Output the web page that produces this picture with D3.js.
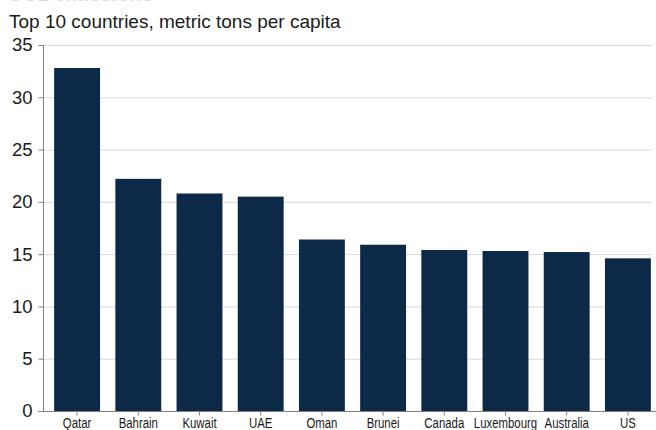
<!DOCTYPE html>
<html><head><meta charset="utf-8">
<script src="https://cdn.jsdelivr.net/npm/d3@7"></script>
<style>body{margin:0;background:#fff}svg{display:block}</style>
</head><body>
<script>
const countries = ["Qatar","Bahrain","Kuwait","UAE","Oman","Brunei","Canada","Luxembourg","Australia","US"];
const values = [32.8, 22.2, 20.8, 20.5, 16.4, 15.9, 15.4, 15.3, 15.2, 14.6];
const yTicks = [0,5,10,15,20,25,30,35];
const title = "CO2 emissions";
const subtitle = "Top 10 countries, metric tons per capita";

const W = 656, H = 430;
const svg = d3.select("body").append("svg").attr("width", W).attr("height", H);

svg.append("text").attr("x", 8).attr("y", 1).attr("fill", "#dcdcdc")
  .attr("font-family", "Liberation Sans, Arial, sans-serif").attr("font-size", 20).attr("font-weight", "bold")
  .text(title);
svg.append("text").attr("x", 9).attr("y", 28).attr("fill", "#1a1a1a")
  .attr("font-family", "Liberation Sans, Arial, sans-serif").attr("font-size", 19)
  .text(subtitle);

const y = d3.scaleLinear().domain([0, 35]).range([411, 45]);
const x = d3.scaleBand().domain(countries).range([46.5, 658.5]).paddingInner(0.25).paddingOuter(0.125);

// gridlines
svg.append("g").selectAll("line").data(yTicks.filter(d => d > 0)).join("line")
  .attr("x1", 43).attr("x2", 652).attr("y1", d => y(d) + 0.5).attr("y2", d => y(d) + 0.5)
  .attr("stroke", "#d9d9d9").attr("stroke-width", 1);

// bars
svg.append("g").selectAll("rect").data(countries).join("rect")
  .attr("x", d => x(d)).attr("width", x.bandwidth())
  .attr("y", (d, i) => y(values[i])).attr("height", (d, i) => y(0) - y(values[i]))
  .attr("fill", "#0c2a47");

// y axis
const yAxis = d3.axisLeft(y).tickValues(yTicks).tickSize(5).tickPadding(6);
const gy = svg.append("g").attr("transform", "translate(43.5,0)").call(yAxis);
gy.select(".domain").attr("stroke", "#808080").attr("d", `M-5,${y(35)+0.5}H0V${y(0)}`);
gy.selectAll(".tick line").attr("stroke", "#808080");
gy.selectAll(".tick text").attr("font-family", "Liberation Sans, Arial, sans-serif").attr("font-size", 18.5).attr("fill", "#1a1a1a");

// x axis
const xAxis = d3.axisBottom(x).tickSize(4).tickPadding(4);
const gx = svg.append("g").attr("transform", `translate(0,${y(0)+0.5})`).call(xAxis);
gx.select(".domain").attr("stroke", "#808080").attr("d", "M38,0H656");
gx.selectAll(".tick line").attr("stroke", "#808080");
gx.selectAll(".tick text")
  .attr("font-family", "Liberation Sans, Arial, sans-serif").attr("font-size", 15).attr("fill", "#1a1a1a")
  .attr("dy", null).attr("y", 17)
  .attr("transform", "scale(0.76,1)");
</script>
</body></html>
